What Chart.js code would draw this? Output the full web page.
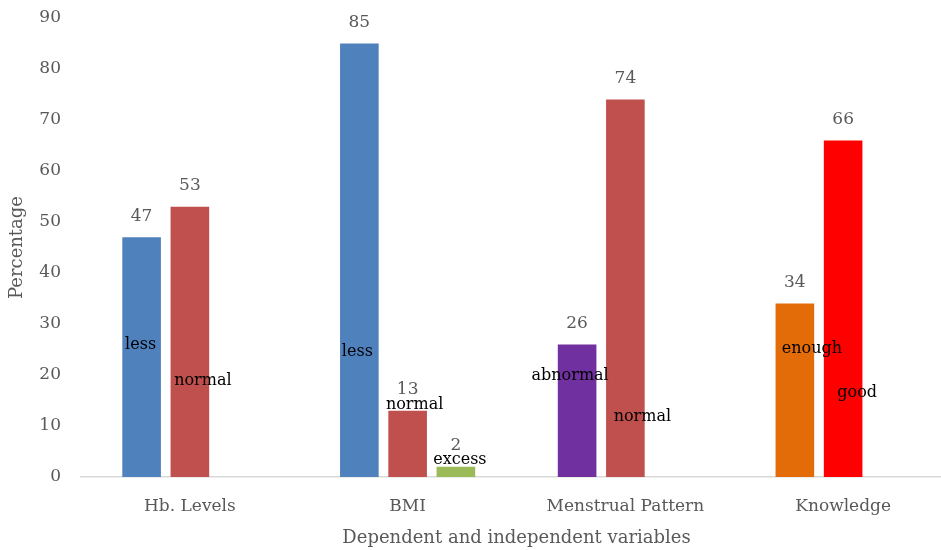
<!DOCTYPE html>
<html>
<head>
<meta charset="utf-8">
<script src="https://cdn.jsdelivr.net/npm/chart.js@4/dist/chart.umd.min.js"></script>
<style>
  html, body { margin: 0; padding: 0; background: #fff; overflow: hidden; }
  #wrap { width: 941px; height: 550px; overflow: hidden; }
</style>
</head>
<body>
<div id="wrap">
  <canvas id="varChart" width="960" height="550" style="width:960px;height:550px"></canvas>
</div>
<script>
// chart data
const categories = ['Hb. Levels', 'BMI', 'Menstrual Pattern', 'Knowledge'];
const firstGroup = [47, 85, 26, 34];
const secondGroup = [53, 13, 74, 66];
const thirdGroup = [null, 2, null, null];
const firstNames = ['less', 'less', 'abnormal', 'enough'];
const secondNames = ['normal', 'normal', 'normal', 'good'];
const thirdNames = [null, 'excess', null, null];
const yMax = 90;
const yStep = 10;

// where the in-bar names sit: [x shift in px from bar centre, height in axis units]
const namePlace = [
  [[-1, 26], [-2, 24.5], [-7, 19.8], [17, 25.1]],
  [[13, 18.8], [7, 14.1], [17, 11.8], [14, 16.5]],
  [null, [4, 3.3], null, null]
];

const serif = 'DejaVu Serif';
const gray = '#595959';

const barLabels = {
  id: 'barLabels',
  afterDatasetsDraw(chart) {
    const ctx = chart.ctx;
    const yScale = chart.scales.y;
    const names = [firstNames, secondNames, thirdNames];
    ctx.save();
    ctx.textAlign = 'center';
    ctx.textBaseline = 'middle';
    chart.data.datasets.forEach((ds, di) => {
      const meta = chart.getDatasetMeta(di);
      meta.data.forEach((bar, i) => {
        const v = ds.data[i];
        if (v === null) return;
        ctx.font = '17px "' + serif + '"';
        ctx.fillStyle = gray;
        ctx.fillText(String(v), bar.x, bar.y - 21);
        const p = namePlace[di][i];
        if (names[di][i] && p) {
          ctx.font = '16px "' + serif + '"';
          ctx.fillStyle = '#000';
          ctx.fillText(names[di][i], bar.x + p[0], yScale.getPixelForValue(p[1]));
        }
      });
    });
    ctx.restore();
  }
};

new Chart(document.getElementById('varChart').getContext('2d'), {
  type: 'bar',
  data: {
    labels: categories,
    datasets: [
      {
        data: firstGroup,
        backgroundColor: ['#4F81BD', '#4F81BD', '#7030A0', '#E36C09'],
        barPercentage: 0.8,
        categoryPercentage: 0.665
      },
      {
        data: secondGroup,
        backgroundColor: ['#C0504D', '#C0504D', '#C0504D', '#FF0000'],
        barPercentage: 0.8,
        categoryPercentage: 0.665
      },
      {
        data: thirdGroup,
        backgroundColor: '#9BBB59',
        barPercentage: 0.8,
        categoryPercentage: 0.665
      }
    ]
  },
  options: {
    responsive: false,
    animation: false,
    layout: { padding: { top: 18, right: 8, left: 0, bottom: 0 } },
    plugins: {
      legend: { display: false },
      tooltip: { enabled: false }
    },
    scales: {
      x: {
        grid: { display: false, drawTicks: false },
        border: { color: '#d9d9d9', width: 1.5 },
        ticks: { color: gray, font: { family: serif, size: 17 }, padding: 19, maxRotation: 0 },
        title: {
          display: true,
          text: 'Dependent and independent variables',
          color: gray,
          font: { family: serif, size: 18 },
          padding: { top: 0, bottom: 1 }
        },
        afterFit: s => { s.height = 73; s.paddingLeft = 0; s.paddingRight = 0; }
      },
      y: {
        min: 0,
        max: yMax,
        grid: { display: false, drawTicks: false },
        border: { display: false },
        ticks: { stepSize: yStep, color: gray, font: { family: serif, size: 17 }, padding: 20 },
        title: {
          display: true,
          text: 'Percentage',
          color: gray,
          font: { family: serif, size: 18 },
          padding: { top: 7, bottom: 0 }
        },
        afterFit: s => { s.width = 81; s.paddingTop = 0; s.paddingBottom = 0; }
      }
    }
  },
  plugins: [barLabels]
});
</script>
</body>
</html>
